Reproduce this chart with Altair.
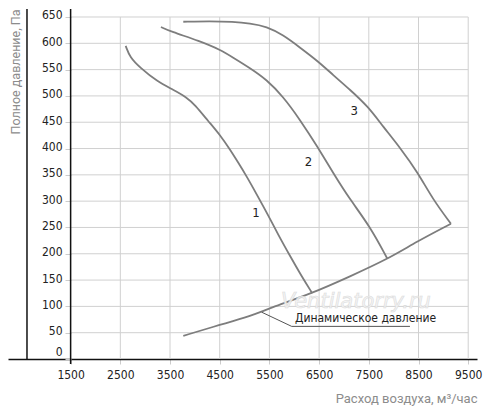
import altair as alt
import pandas as pd

# ---- data ----
x_ticks = [1500, 2500, 3500, 4500, 5500, 6500, 7500, 8500, 9500]
y_ticks = [0, 50, 100, 150, 200, 250, 300, 350, 400, 450, 500, 550, 600, 650]

c1_x = [2608, 2695, 2896, 3232, 3560, 3841, 4002, 4270, 4505, 4707, 4874, 5043, 5244, 5477, 5678, 5914, 6149, 6362]
c1_y = [595, 573, 554, 528, 512, 497, 483, 452, 426, 398, 373, 347, 313, 273, 236, 196, 157, 125]

c2_x = [3318, 3499, 4103, 4505, 4767, 5109, 5445, 5773, 6115, 6477, 6779, 7121, 7523, 7871]
c2_y = [631, 623, 604, 588, 573, 553, 531, 499, 455, 402, 354, 303, 252, 191]

c3_x = [3767, 4300, 4767, 5109, 5445, 5773, 6115, 6477, 6779, 7121, 7483, 7785, 8127, 8489, 8791, 9153]
c3_y = [641, 642, 641, 638, 632, 616, 592, 566, 540, 512, 480, 442, 402, 354, 303, 257]

dyn_x = [3767, 4503, 5109, 5511, 6362, 7121, 7880, 8463, 9153]
dyn_y = [44, 65, 81, 97, 125, 157, 190, 223, 257]

curve_labels = ["1", "2", "3"]
label_x = [5230, 6286, 7207]
label_y = [277, 374, 472]

leader_x = [5344, 5948, 8328]
leader_y = [89, 62, 62]
annot_text = "Динамическое давление"
annot_x = 6014
annot_y = 78

frame_x = 622
x_title = "Расход воздуха, м³/час"
y_title = "Полное давление, Па"

# ---- tables ----
rows = []
for name, xs, ys in [("1", c1_x, c1_y), ("2", c2_x, c2_y), ("3", c3_x, c3_y), ("dyn", dyn_x, dyn_y)]:
    for i, (a, b) in enumerate(zip(xs, ys)):
        rows.append({"s": name, "i": i, "q": a, "p": b})
curves = pd.DataFrame(rows)

vgrid = pd.DataFrame({"q": x_ticks, "p": 0, "p1": 650})
hgrid = pd.DataFrame({"p": y_ticks[1:], "q": x_ticks[0], "q1": x_ticks[-1]})
labels = pd.DataFrame({"t": curve_labels, "q": label_x, "p": label_y})
leader = pd.DataFrame({"q": leader_x, "p": leader_y, "i": [0, 1, 2]})
annot = pd.DataFrame({"t": [annot_text], "q": [annot_x], "p": [annot_y]})
frame = pd.DataFrame({"q": [frame_x], "p": [0], "p1": [665.2]})
yaxis_line = pd.DataFrame({"q": [x_ticks[0]], "p": [-9.5], "p1": [665.2]})
wm = pd.DataFrame({"t": ["Ventilatorry.ru"], "q": [7242], "p": [109]})

tick_font = "Liberation Sans Narrow, DejaVu Sans Condensed, sans-serif"
title_font = "Roboto, sans-serif"

xscale = alt.Scale(domain=[240, 9677], nice=False, zero=False)
yscale = alt.Scale(domain=[0, 665.2], nice=False, zero=False)

xaxis = alt.Axis(
    values=x_ticks, format="d", grid=False, domainColor="#111", domainWidth=1.5,
    tickColor="#cccccc", tickSize=5, tickWidth=1,
    labelFont=tick_font, labelFontSize=12, labelColor="#222",
    labelPadding=10, labelBaseline="middle", labelOverlap=False,
    title=x_title, titleFont=title_font, titleFontSize=13,
    titleFontWeight="normal", titleColor="#8c8c8c",
    titleX=469, titleY=43, titleAlign="right", titleBaseline="alphabetic",
    labelFlush=False,
)
yaxis = alt.Axis(
    values=y_ticks, format="d", grid=False, domain=False, offset=-63,
    tickColor="#cccccc", tickSize=6, tickWidth=1,
    labelFont=tick_font, labelFontSize=12, labelColor="#222",
    labelPadding=3, labelBaseline="middle", labelOverlap=False,
    labelOffset={"expr": "datum.value === 0 ? -8 : -2"},
    title=y_title, titleFont=title_font, titleFontSize=12.5,
    titleFontWeight="normal", titleColor="#8c8c8c",
    titleX=-52, titleY=62.5, titleAngle=270, titleAlign="center",
    titleBaseline="alphabetic", labelFlush=False,
)

X = alt.X("q:Q", scale=xscale, axis=xaxis)
Y = alt.Y("p:Q", scale=yscale, axis=yaxis)

vg = alt.Chart(vgrid).mark_rule(color="#d0d0d0", strokeWidth=1).encode(
    x=X, y=Y, y2="p1:Q"
)
hg = alt.Chart(hgrid).mark_rule(color="#d0d0d0", strokeWidth=1).encode(
    x=X, y=Y, x2="q1:Q"
)
fr = alt.Chart(frame).mark_rule(color="#111", strokeWidth=1.5).encode(
    x=X, y=Y, y2="p1:Q"
)
ya = alt.Chart(yaxis_line).mark_rule(color="#111", strokeWidth=1.5).encode(
    x=X, y=Y, y2="p1:Q"
)
lines = alt.Chart(curves).mark_line(color="#7d7d7d", strokeWidth=1.8, interpolate="basis").encode(
    x=X, y=Y, detail="s:N", order="i:Q"
)
ld = alt.Chart(leader).mark_line(color="#555", strokeWidth=1).encode(
    x=X, y=Y, order="i:Q"
)
wmk = alt.Chart(wm).mark_text(
    font="DejaVu Sans, sans-serif", fontSize=21, fontStyle="italic",
    color="#f4f4f4", stroke="#d8d8d8", strokeWidth=0.6, opacity=0.9
).encode(x=X, y=Y, text="t:N")
lb = alt.Chart(labels).mark_text(font=tick_font, fontSize=13, color="#222").encode(
    x=X, y=Y, text="t:N"
)
an = alt.Chart(annot).mark_text(font=tick_font, fontSize=12, color="#222", align="left", baseline="middle").encode(
    x=X, y=Y, text="t:N"
)

chart = alt.layer(vg, hg, fr, lines, wmk, ld, an, lb, ya).properties(
    width=469, height=350,
    autosize=alt.AutoSizeParams(type="none"),
    padding={"left": 0, "top": 1, "right": 15, "bottom": 48},
).configure_view(stroke=None)

chart.save("out.html", embed_options={"renderer": "svg", "actions": False})
